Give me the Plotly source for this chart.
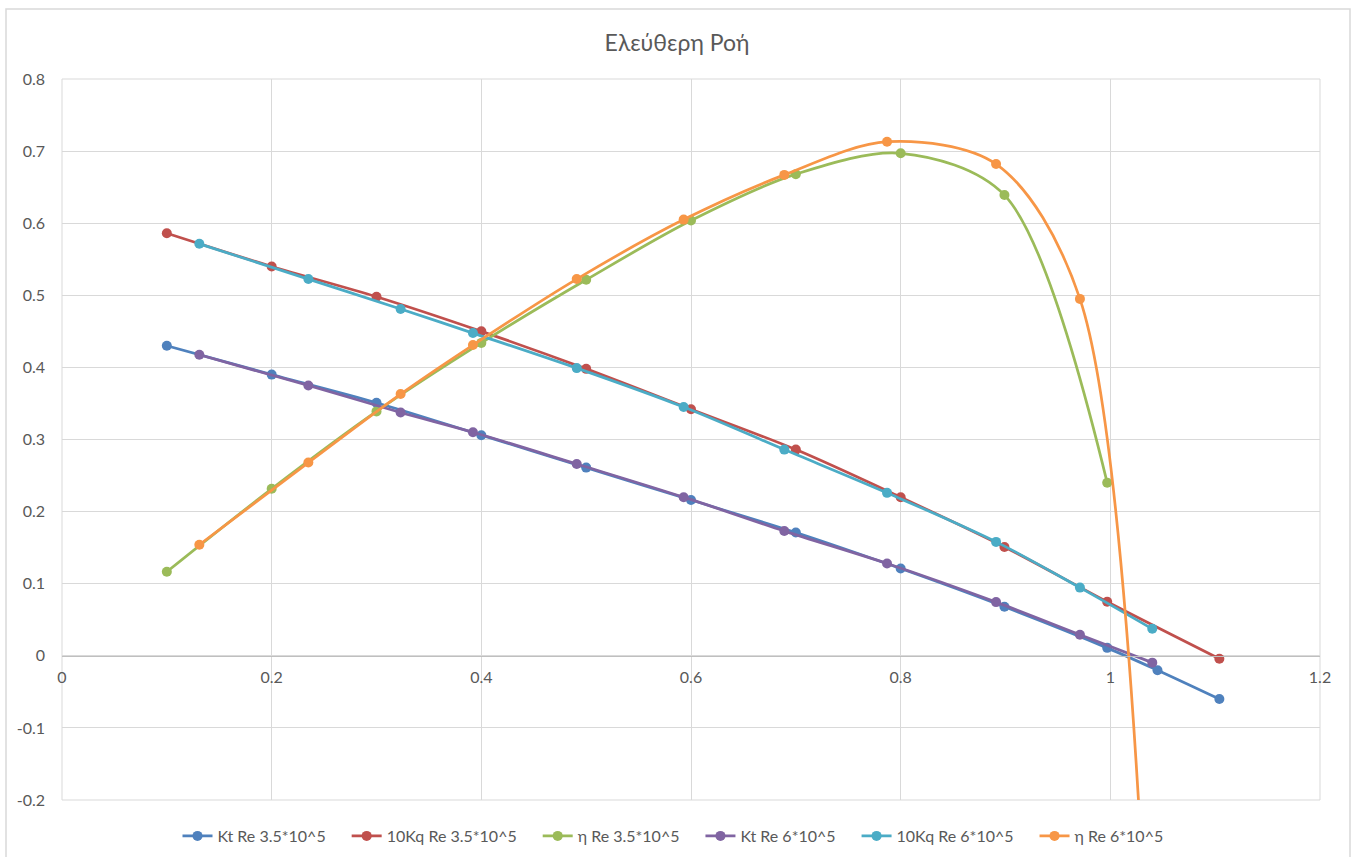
import plotly.graph_objects as go

# ---- data ----
J_35 = [0.1, 0.2, 0.3, 0.4, 0.5, 0.6, 0.7, 0.8, 0.899, 0.997]
J_35_kt = [0.1, 0.2, 0.3, 0.4, 0.5, 0.6, 0.7, 0.8, 0.899, 0.997, 1.045, 1.104]
J_35_kq = [0.1, 0.2, 0.3, 0.4, 0.5, 0.6, 0.7, 0.8, 0.899, 0.997, 1.104]
J_6 = [0.131, 0.235, 0.323, 0.392, 0.491, 0.593, 0.689, 0.787, 0.891, 0.971, 1.040]

kt_35 = [0.430, 0.390, 0.351, 0.306, 0.261, 0.216, 0.171, 0.121, 0.068, 0.011, -0.020, -0.060]
kq10_35 = [0.586, 0.540, 0.498, 0.450, 0.398, 0.342, 0.286, 0.220, 0.151, 0.075, -0.004]
eta_35 = [0.1165, 0.2316, 0.339, 0.434, 0.5215, 0.6037, 0.668, 0.697, 0.639, 0.240]

kt_6 = [0.4175, 0.375, 0.3375, 0.310, 0.266, 0.220, 0.173, 0.128, 0.0745, 0.0293, -0.0095]
kq10_6 = [0.5714, 0.5225, 0.481, 0.4476, 0.399, 0.345, 0.286, 0.226, 0.158, 0.0946, 0.0374]
eta_6 = [0.154, 0.268, 0.363, 0.431, 0.5225, 0.605, 0.667, 0.713, 0.682, 0.495, -0.58]

names = ["Kt Re 3.5*10^5", "10Kq Re 3.5*10^5", "η Re 3.5*10^5",
         "Kt Re 6*10^5", "10Kq Re 6*10^5", "η Re 6*10^5"]

x_ticks = [0, 0.2, 0.4, 0.6, 0.8, 1.0, 1.2]
x_ticklabels = ["0", "0.2", "0.4", "0.6", "0.8", "1", "1.2"]
y_ticks = [0.8, 0.7, 0.6, 0.5, 0.4, 0.3, 0.2, 0.1, 0, -0.1, -0.2]
y_ticklabels = ["0.8", "0.7", "0.6", "0.5", "0.4", "0.3", "0.2", "0.1", "0", "-0.1", "-0.2"]

colors = ["#4F81BD", "#C0504D", "#9BBB59", "#8064A2", "#4BACC6", "#F79646"]

series = [
    (J_35_kt, kt_35),
    (J_35_kq, kq10_35),
    (J_35, eta_35),
    (J_6, kt_6),
    (J_6, kq10_6),
    (J_6, eta_6),
]

legend_pad = "\u2002\u2002"  # spacing after each legend entry

fig = go.Figure()
for (xs, ys), name, c in zip(series, names, colors):
    fig.add_trace(go.Scatter(
        x=xs, y=ys, name=name + legend_pad, mode="lines+markers",
        line=dict(color=c, width=2.75, shape="spline", smoothing=0.9),
        marker=dict(color=c, size=10, symbol="circle"),
    ))

font_family = "Lato, 'Open Sans', sans-serif"
grid = "#D9D9D9"
txt = "#595959"

fig.update_layout(
    width=1354, height=857,
    margin=dict(l=62, r=34, t=79, b=57, autoexpand=False),
    paper_bgcolor="white", plot_bgcolor="white",
    font=dict(family=font_family, color=txt, size=16),
    title=dict(text="Ελεύθερη Ροή", xref="container", x=0.5, xanchor="center",
               yref="container", y=1 - 43 / 857, yanchor="middle",
               font=dict(size=23, color=txt, family=font_family)),
    showlegend=True,
    legend=dict(orientation="h", x=(681 - 62) / 1258, xanchor="center", xref="paper",
                y=-36 / 721, yanchor="middle", font=dict(size=16, color=txt),
                tracegroupgap=0, bgcolor="rgba(0,0,0,0)"),
    xaxis=dict(range=[0, 1.2], tickvals=x_ticks, ticktext=x_ticklabels,
               showgrid=True, gridcolor=grid, gridwidth=1, zeroline=False,
               anchor="free", position=0.2, showline=True, linecolor="#BFBFBF",
               linewidth=1, ticks="", ticklabelstandoff=7,
               tickfont=dict(size=16, color=txt), mirror=False),
    yaxis=dict(range=[-0.2, 0.8], tickvals=y_ticks, ticktext=y_ticklabels,
               showgrid=True, gridcolor=grid, gridwidth=1, zeroline=False,
               ticks="", ticklabelstandoff=16, tickfont=dict(size=16, color=txt)),
)

# outer chart border
fig.add_shape(type="rect", xref="paper", yref="paper",
              x0=(6 - 62) / 1258, x1=(1350 - 62) / 1258,
              y0=(800 - 870) / 721, y1=(800 - 9) / 721,
              line=dict(color="#D9D9D9", width=1.5), layer="below")
# plot area edges (grid-coloured)
fig.add_shape(type="rect", xref="paper", yref="paper", x0=0, x1=1, y0=0, y1=1,
              line=dict(color=grid, width=1), layer="below")

fig.write_html("out.html")
